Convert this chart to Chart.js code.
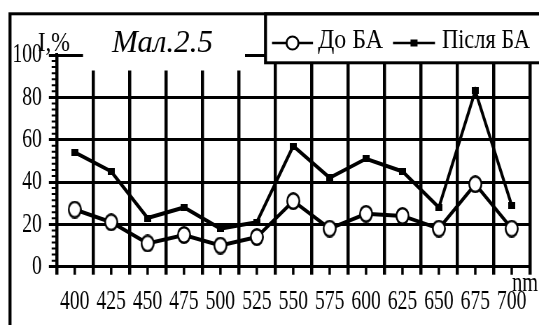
<!DOCTYPE html>
<html>
<head>
<meta charset="utf-8">
<script src="https://cdn.jsdelivr.net/npm/chart.js@4.4.0/dist/chart.umd.min.js"></script>
<style>
  html, body { margin: 0; padding: 0; background: #fff; overflow: hidden; }
  /* the scanned figure is squeezed sideways, so draw wide and squeeze */
  #wrap { width: 770px; height: 325px; transform: scaleX(0.7); transform-origin: 0 0; }
</style>
</head>
<body>
<div id="wrap"><canvas id="chart" width="770" height="325"></canvas></div>
<script>
const wavelengths = ['400', '425', '450', '475', '500', '525', '550', '575', '600', '625', '650', '675', '700'];
const beforeBA = [27, 21, 11, 15, 10, 14, 31, 18, 25, 24, 18, 39, 18];
const afterBA = [54, 45, 23, 28, 18, 21, 57, 42, 51, 45, 28, 83, 29];
const yTicks = [0, 20, 40, 60, 80, 100];
const seriesNames = ['До БА', 'Після БА'];
const chartTitle = 'Мал.2.5';
const yAxisTitle = 'I,%';
const xAxisTitle = 'nm';

const SX = 0.7;
const FONT = "'Liberation Serif', 'Times New Roman', serif";
const minorPerMajor = 7;

function ellipseMarker(w, h, lw) {
    const c = document.createElement('canvas');
    c.width = w; c.height = h;
    const g = c.getContext('2d');
    g.beginPath();
    g.ellipse(w / 2, h / 2, w / 2 - lw / 2, h / 2 - lw / 2, 0, 0, Math.PI * 2);
    g.fillStyle = '#fff';
    g.fill();
    g.lineWidth = lw;
    g.strokeStyle = '#000';
    g.stroke();
    return c;
}

function rectMarker(w, h) {
    const c = document.createElement('canvas');
    c.width = w; c.height = h;
    const g = c.getContext('2d');
    g.fillStyle = '#000';
    g.fillRect(0, 0, w, h);
    return c;
}

// text squeezed to the width it has in the scan (coords in screen px)
function squeezeText(ctx, text, left, base, font, width) {
    ctx.font = font;
    const k = width / ctx.measureText(text).width;
    ctx.save();
    ctx.translate(left, base);
    ctx.scale(k, 1);
    ctx.textAlign = 'left';
    ctx.textBaseline = 'alphabetic';
    ctx.fillText(text, 0, 0);
    ctx.restore();
}

const decor = {
    id: 'decor',
    afterDraw(chart) {
        const ctx = chart.ctx;
        const xs = chart.scales.x, ys = chart.scales.y;
        const area = chart.chartArea;

        ctx.save();
        ctx.strokeStyle = '#000';
        // minor ticks on the y axis
        ctx.lineWidth = 2;
        ctx.beginPath();
        const step = (yTicks[1] - yTicks[0]) / minorPerMajor;
        for (let v = yTicks[0]; v < yTicks[yTicks.length - 1]; v += step) {
            const py = ys.getPixelForValue(v);
            ctx.moveTo(area.left - 7, py);
            ctx.lineTo(area.left, py);
        }
        ctx.stroke();
        // short ticks under each category
        ctx.lineWidth = 3.5;
        ctx.beginPath();
        xs.ticks.forEach((t, i) => {
            const px = xs.getPixelForTick(i);
            ctx.moveTo(px, area.bottom);
            ctx.lineTo(px, area.bottom + 8);
        });
        ctx.stroke();
        ctx.restore();

        // the rest is placed in screen pixels
        ctx.save();
        ctx.scale(1 / SX, 1);
        ctx.fillStyle = '#fff';
        ctx.fillRect(83, 15.5, 162, 55);
        ctx.fillStyle = '#000';
        squeezeText(ctx, chartTitle, 112, 52, 'italic 31px ' + FONT, 101);
        squeezeText(ctx, yAxisTitle, 38, 51, '28px ' + FONT, 32);
        squeezeText(ctx, xAxisTitle, 512, 291, '27px ' + FONT, 26);

        // legend box
        ctx.fillStyle = '#fff';
        ctx.fillRect(265.5, 13.8, 300, 49);
        ctx.lineWidth = 3;
        ctx.strokeStyle = '#000';
        ctx.strokeRect(265.5, 13.8, 300, 49);

        ctx.lineWidth = 2.5;
        ctx.beginPath();
        ctx.moveTo(272, 43); ctx.lineTo(313, 43);
        ctx.moveTo(393, 43); ctx.lineTo(435, 43);
        ctx.stroke();
        ctx.beginPath();
        ctx.ellipse(292.5, 43, 6, 6.5, 0, 0, Math.PI * 2);
        ctx.fillStyle = '#fff';
        ctx.fill();
        ctx.lineWidth = 2;
        ctx.stroke();
        ctx.fillStyle = '#000';
        ctx.fillRect(410.5, 39.5, 7, 7);
        squeezeText(ctx, seriesNames[0], 318, 48, '28px ' + FONT, 65);
        squeezeText(ctx, seriesNames[1], 442, 48, '28px ' + FONT, 88);

        // outer frame of the figure
        ctx.lineWidth = 3;
        ctx.strokeRect(10, 13.8, 600, 400);
        ctx.restore();
    }
};

Chart.defaults.font.family = FONT;
Chart.defaults.font.size = 28;
Chart.defaults.color = '#000';

new Chart(document.getElementById('chart'), {
    type: 'line',
    data: {
        labels: wavelengths,
        datasets: [
            {
                label: seriesNames[1],
                data: afterBA,
                borderColor: '#000',
                borderWidth: 4,
                pointStyle: rectMarker(10, 7),
                pointRadius: 5,
                tension: 0
            },
            {
                label: seriesNames[0],
                data: beforeBA,
                borderColor: '#000',
                borderWidth: 4,
                pointStyle: ellipseMarker(20, 18, 2.6),
                pointRadius: 9,
                tension: 0
            }
        ]
    },
    options: {
        responsive: false,
        animation: false,
        layout: { padding: { left: 0, right: 5, top: 55, bottom: 0 } },
        plugins: { legend: { display: false }, tooltip: { enabled: false } },
        scales: {
            x: {
                offset: true,
                grid: { offset: true, color: '#000', lineWidth: 4.5, tickLength: 8, tickWidth: 4.5 },
                border: { color: '#000', width: 3 },
                ticks: { padding: 10, maxRotation: 0, autoSkip: false },
                afterFit(s) { s.height = 58.3; }
            },
            y: {
                min: yTicks[0],
                max: yTicks[yTicks.length - 1],
                afterBuildTicks(s) { s.ticks = yTicks.map(v => ({ value: v })); },
                grid: { color: '#000', lineWidth: 3, tickLength: 11, tickWidth: 3 },
                border: { color: '#000', width: 4 },
                ticks: { padding: 10 },
                afterFit(s) { s.width = 80.8; }
            }
        }
    },
    plugins: [decor]
});
</script>
</body>
</html>
